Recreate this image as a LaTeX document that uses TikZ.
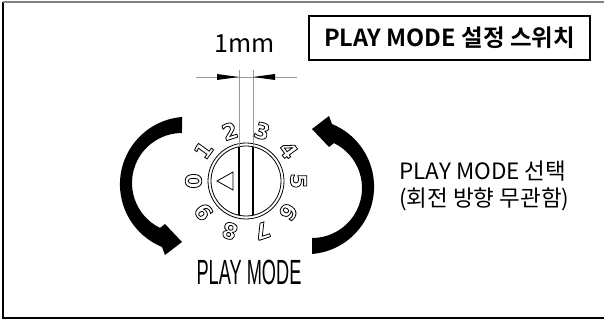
\documentclass[tikz,border=0pt]{standalone}
\usepackage{fontspec}
\usepackage{graphicx}
\setmainfont{Noto Sans CJK KR}
\newfontfamily\krbold{Noto Sans CJK KR Bold}
\newfontfamily\digitfont{DejaVu Sans}
\newfontfamily\narrowfont{Liberation Sans}
\newcommand\hollow[1]{\special{pdf:literal direct q 1 Tr 0.8 w}#1\special{pdf:literal direct Q}}
\usetikzlibrary{arrows.meta,calc}
\tikzset{
  frameline/.style={line width=1.2pt},
  dimline/.style={draw=gray!80, line width=0.6pt},
  slotline/.style={draw=black, line width=1.1pt},
  dimtip/.style={fill=black},
  digit/.style={font=\digitfont\bfseries\fontsize{22}{22}\selectfont, inner sep=0pt},
  bigarrow/.pic={
    \fill[black] (182,203) arc[start angle=94.7, end angle=247.8, radius=67.6]
      -- (165,65) -- (182,78) -- (165,96) -- (160,92.1)
      arc[start angle=243.9, end angle=90, radius=50] -- cycle;
  }
}
\begin{document}
\begin{tikzpicture}[x=1pt,y=1pt]
\useasboundingbox (0,0) rectangle (604,320);
% outer frame
\draw[frameline] (606,2) -- (3,2) -- (3,318);
\draw[line width=1.2pt, gray] (3,318) -- (606,318);
% title box
\node[draw, line width=1.4pt, minimum width=281pt, minimum height=44pt, inner sep=0pt,
      font=\krbold\fontsize{23.5}{23.5}\selectfont] (title) at (449.5,282) {PLAY MODE 설정 스위치};
% dimension
\coordinate (dl) at (196,243);
\coordinate (dr) at (297,243);
\coordinate (el) at (239,250);
\coordinate (er) at (253,250);
\coordinate (ela) at (239,243);
\coordinate (era) at (253,243);
\draw[dimline] (dl) -- (dr);
\node[font=\fontsize{25}{25}\selectfont, inner sep=0pt] (mm) at (245,276) {1mm};
% dial
\coordinate (c) at (246,139);
\draw[line width=0.8pt] (c) circle[radius=38];
\draw[line width=0.8pt] (c) circle[radius=35];
\coordinate (slt) at (239,173.3);
\coordinate (slb) at (239,104.7);
\coordinate (srt) at (253,173.3);
\coordinate (srb) at (253,104.7);
\draw[dimline] (el) -- (slt);
\draw[dimline] (er) -- (srt);
\draw[slotline] (slt) -- (slb);
\draw[slotline] (srt) -- (srb);
\fill[dimtip] (ela) -- (217,246) -- (217,240) -- cycle;
\fill[dimtip] (era) -- (275,246) -- (275,240) -- cycle;
\draw[line width=0.8pt] (217,139) -- (233,148) -- (233,130) -- cycle;
% digits
\foreach \d in {0,...,9}{
  \pgfmathsetmacro\ang{180-36*\d}
  \node[digit, rotate=\ang-90] (n\d) at ($(c)+(\ang:52.5)$) {\hollow{\d}};
}
% arrows
\pic {bigarrow};
\pic[rotate=180] at (494,269) {bigarrow};
% texts
\node[align=left, anchor=west, inner sep=0pt, font=\fontsize{22.5}{26.5}\selectfont] (mode) at (399,134)
  {PLAY MODE 선택\\(회전 방향 무관함)};
\node[inner sep=0pt, font=\narrowfont\fontsize{35}{35}\selectfont] (pm) at (249,48)
  {\scalebox{0.52}[1]{PLAY MODE}};
\end{tikzpicture}
\end{document}
